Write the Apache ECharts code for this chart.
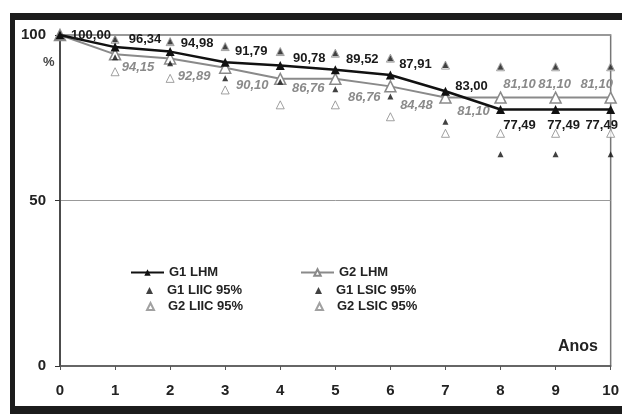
<!DOCTYPE html>
<html>
<head>
<meta charset="utf-8">
<script src="https://cdn.jsdelivr.net/npm/echarts@6/dist/echarts.min.js"></script>
<style>
html,body{margin:0;padding:0;background:#fff;overflow:hidden;}
#chart{width:622px;height:414px;}
</style>
</head>
<body>
<div id="chart"></div>
<script>
// ---- data ----
var years = [0, 1, 2, 3, 4, 5, 6, 7, 8, 9, 10];
var g1LHM = [100.00, 96.34, 94.98, 91.79, 90.78, 89.52, 87.91, 83.00, 77.49, 77.49, 77.49];
var g2LHM = [100.00, 94.15, 92.89, 90.10, 86.76, 86.76, 84.48, 81.10, 81.10, 81.10, 81.10];
var g1LIIC = [null, 93.3, 91.5, 86.9, 85.9, 83.6, 81.4, 73.8, 64.0, 64.0, 64.0];
var g1LSIC = [null, 98.7, 98.0, 96.5, 95.0, 94.5, 93.0, 90.9, 90.4, 90.4, 90.4];
var g2LIIC = [null, 88.9, 86.9, 83.4, 78.9, 78.9, 75.3, 70.3, 70.3, 70.3, 70.3];
var g2LSIC = [null, 98.7, 98.0, 96.5, 95.0, 94.5, 93.0, 90.9, 90.4, 90.4, 90.4];
var yTicks = [0, 50, 100];
var xTicks = years;
var seriesNames = ['G1 LHM', 'G2 LHM', 'G1 LIIC 95%', 'G1 LSIC 95%', 'G2 LIIC 95%', 'G2 LSIC 95%'];

// ---- chart ----
var G1C = '#111111', G2C = '#8a8a8a';
var g1Off = [[31,0],[30,-8],[27,-8],[26,-11],[29,-7],[27,-10],[25,-11],[26,-5],[19,16],[8,16],[-9,16]];
var g2Off = [null,[23,13],[24,18],[27,18],[28,10],[29,19],[26,19],[28,14],[19,-13],[-1,-13],[-14,-13]];
function fmt(v){ return v.toFixed(2).replace('.', ','); }
function pts(arr){ return arr.map(function(v,i){ return v==null ? null : [years[i], v]; }).filter(function(p){return p;}); }

var g1Data = g1LHM.map(function(v,i){
  return {value:[years[i], v], label:{show:true, offset:g1Off[i]}};
});
var g2Data = g2LHM.map(function(v,i){
  return {value:[years[i], v], label: g2Off[i] ? {show:true, offset:g2Off[i]} : {show:false}};
});

var chart = echarts.init(document.getElementById('chart'), null, {renderer:'canvas'});
var hollowG2 = {color:'#ffffff', borderColor:G2C, borderWidth:1};
var legendText = {fontFamily:'Liberation Sans, Arial, sans-serif', fontWeight:'bold', fontSize:13, color:'#222'};
var legendTextPad = Object.assign({}, legendText, {padding:[0,0,0,9]});
function lineLegend(name, left, top){
  return {left:left, top:top, itemWidth:33, itemHeight:8, padding:0, textStyle:legendText, data:[name]};
}
function dotLegend(name, left, top){
  return {left:left, top:top, itemWidth:7, itemHeight:7, padding:0, textStyle:legendTextPad, data:[name]};
}
chart.setOption({
  animation:false,
  backgroundColor:'#ffffff',
  grid:{left:60, right:9, top:35, bottom:48, show:true, borderColor:'#777', borderWidth:1.5},
  xAxis:{
    type:'value', min:0, max:10, interval:1,
    axisLine:{show:true, onZero:false, lineStyle:{color:'#555', width:1.5}},
    axisTick:{show:true, length:4, lineStyle:{color:'#555'}},
    splitLine:{show:false},
    axisLabel:{margin:17, fontFamily:'Liberation Sans, Arial, sans-serif', fontWeight:'bold', fontSize:15, color:'#222',
      formatter:function(v){ return xTicks.indexOf(v) >= 0 ? String(v) : ''; }}
  },
  yAxis:{
    type:'value', min:0, max:100, interval:50,
    axisLine:{show:true, lineStyle:{color:'#333', width:1.5}},
    axisTick:{show:true, length:5, lineStyle:{color:'#333'}},
    splitLine:{show:true, lineStyle:{color:'#999', width:1}},
    axisLabel:{margin:14, fontFamily:'Liberation Sans, Arial, sans-serif', fontWeight:'bold', fontSize:15, color:'#222',
      formatter:function(v){ return yTicks.indexOf(v) >= 0 ? String(v) : ''; }}
  },
  legend:[
    lineLegend(seriesNames[0], 130, 266),
    dotLegend(seriesNames[2], 146, 284),
    dotLegend(seriesNames[4], 146, 300),
    lineLegend(seriesNames[1], 300, 266),
    dotLegend(seriesNames[3], 315, 284),
    dotLegend(seriesNames[5], 315, 300)
  ],
  graphic:[
    {type:'rect', shape:{x:10, y:13, width:620, height:7}, style:{fill:'#1c1c1c'}, z:100},
    {type:'rect', shape:{x:10, y:13, width:5, height:410}, style:{fill:'#1c1c1c'}, z:100},
    {type:'rect', shape:{x:10, y:406, width:620, height:10}, style:{fill:'#1c1c1c'}, z:100},
    {type:'text', left:558, top:339, style:{text:'Anos', font:'bold 16px "Liberation Sans", Arial, sans-serif', fill:'#222'}, z:100},
    {type:'text', left:43, top:56, style:{text:'%', font:'bold 13px "Liberation Sans", Arial, sans-serif', fill:'#444'}, z:100}
  ],
  series:[
    {name:seriesNames[5], type:'scatter', symbol:'triangle', symbolSize:8, itemStyle:hollowG2, data:pts(g2LSIC), z:2},
    {name:seriesNames[4], type:'scatter', symbol:'triangle', symbolSize:8, itemStyle:hollowG2, data:pts(g2LIIC), z:2},
    {name:seriesNames[1], type:'line', symbol:'triangle', symbolSize:11, showAllSymbol:true,
     lineStyle:{color:G2C, width:2}, itemStyle:{color:'#ffffff', borderColor:G2C, borderWidth:1.5},
     label:{position:'inside', formatter:function(p){return fmt(p.value[1]);},
       fontFamily:'Liberation Sans, Arial, sans-serif', fontStyle:'italic', fontWeight:'bold', fontSize:13, color:G2C},
     data:g2Data, z:3},
    {name:seriesNames[0], type:'line', symbol:'triangle', symbolSize:9, showAllSymbol:true,
     lineStyle:{color:G1C, width:2.5}, itemStyle:{color:G1C},
     label:{position:'inside', formatter:function(p){return fmt(p.value[1]);},
       fontFamily:'Liberation Sans, Arial, sans-serif', fontWeight:'bold', fontSize:13, color:'#1a1a1a'},
     data:g1Data, z:4},
    {name:seriesNames[3], type:'scatter', symbol:'triangle', symbolSize:6, itemStyle:{color:G1C}, data:pts(g1LSIC), z:5},
    {name:seriesNames[2], type:'scatter', symbol:'triangle', symbolSize:6, itemStyle:{color:G1C}, data:pts(g1LIIC), z:5}
  ]
});
</script>
</body>
</html>
